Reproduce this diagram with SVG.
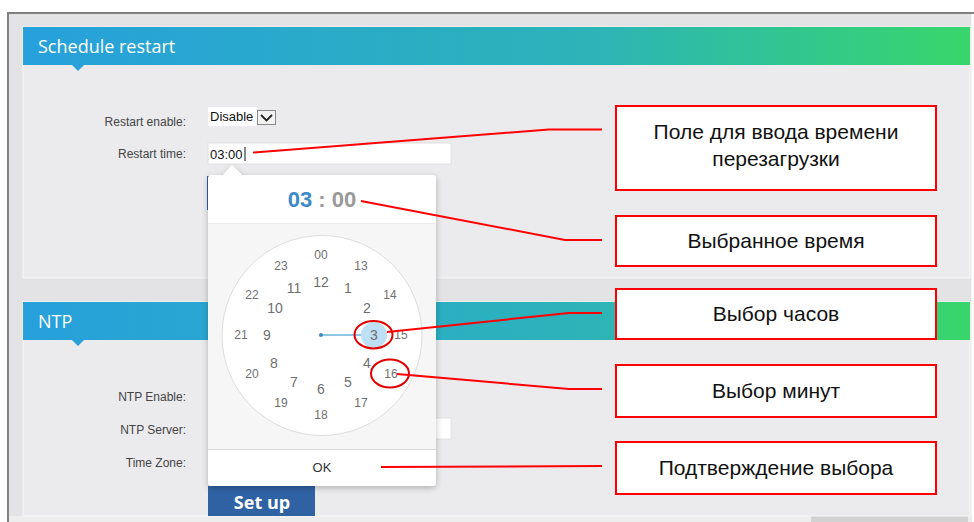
<svg xmlns="http://www.w3.org/2000/svg" width="974" height="522" viewBox="0 0 974 522">
<defs>
<linearGradient id="hdr" x1="0" y1="0" x2="1" y2="0">
<stop offset="0" stop-color="#27a0dc"/>
<stop offset="0.6" stop-color="#2cb4b8"/>
<stop offset="1" stop-color="#38d66b"/>
</linearGradient>
<filter id="shadow" x="-10%" y="-10%" width="120%" height="120%">
<feDropShadow dx="0" dy="2" stdDeviation="3" flood-color="#000" flood-opacity="0.25"/>
</filter>
<style>
.ui{font-family:"Liberation Sans",Arial,sans-serif;}
.lbl{font-family:"Liberation Sans",Arial,sans-serif;font-size:12px;fill:#444;text-anchor:end;}
.hdrt{font-family:"Open Sans","Noto Sans",sans-serif;font-size:18px;fill:#fff;}
.cin{font-family:"Liberation Sans",Arial,sans-serif;font-size:14px;fill:#6f6f6f;text-anchor:middle;}
.cout{font-family:"Liberation Sans",Arial,sans-serif;font-size:12px;fill:#6f6f6f;text-anchor:middle;}
.box{fill:#fff;stroke:#ff0000;stroke-width:2;}
.bt{font-family:"Liberation Sans",Arial,sans-serif;font-size:21px;fill:#111;text-anchor:middle;}
.con{fill:none;stroke:#ff0000;stroke-width:2;}
.ring{fill:none;stroke:#e00000;stroke-width:2;}
</style>
</defs>

<!-- background -->
<rect x="0" y="0" width="974" height="522" fill="#ffffff"/>
<rect x="8" y="13" width="964" height="509" fill="#e3e3e5"/>
<line x1="7" y1="13" x2="974" y2="13" stroke="#808080" stroke-width="2"/>
<line x1="8" y1="13" x2="8" y2="522" stroke="#808080" stroke-width="2"/>
<rect x="9" y="516" width="963" height="6" fill="#ededed"/>
<rect x="811" y="516" width="157" height="6" fill="#d2d2d2"/>
<line x1="971.5" y1="14" x2="971.5" y2="516" stroke="#f4f4f4" stroke-width="1"/>

<!-- panel 1 -->
<g id="panel-schedule">
<rect x="23" y="27" width="947" height="251" fill="#ebebed" stroke="#f7f7f7" stroke-width="1"/>
<rect x="23" y="27" width="947" height="38" fill="url(#hdr)"/>
<polygon points="72,65 84,65 78,71" fill="#27a0dc"/>
<text class="hdrt" x="38" y="53">Schedule restart</text>
<text class="lbl" x="186" y="126">Restart enable:</text>
<text class="lbl" x="186" y="158">Restart time:</text>
<rect x="208" y="107" width="49" height="19" fill="#fff"/>
<text class="ui" x="210" y="121" font-size="13" fill="#111">Disable</text>
<rect x="257.5" y="110.5" width="18" height="14" fill="#f2f2f2" stroke="#888" stroke-width="1"/>
<polyline points="261,115 266.5,120.5 272,115" fill="none" stroke="#222" stroke-width="1.8"/>
<rect x="208" y="143" width="243" height="21" fill="#fff" stroke="#e0e0e0" stroke-width="1"/>
<text class="ui" x="210" y="159" font-size="13" fill="#111">03:00</text>
<line x1="245" y1="147" x2="245" y2="161" stroke="#111" stroke-width="1"/>
<rect x="207" y="176" width="54" height="34" fill="#2f62a3"/>
</g>

<!-- panel 2 -->
<g id="panel-ntp">
<rect x="23" y="302" width="947" height="214" fill="#ebebed" stroke="#f7f7f7" stroke-width="1"/>
<rect x="23" y="302" width="947" height="38" fill="url(#hdr)"/>
<polygon points="72,340 84,340 78,346" fill="#27a0dc"/>
<text class="hdrt" x="38" y="328">NTP</text>
<text class="lbl" x="186" y="401">NTP Enable:</text>
<text class="lbl" x="186" y="434">NTP Server:</text>
<text class="lbl" x="186" y="467">Time Zone:</text>
<rect x="400" y="418" width="51" height="21" fill="#fff" stroke="#e0e0e0" stroke-width="1"/>
<rect x="208" y="486" width="107" height="30" fill="#2f62a3"/>
<text x="262" y="509" font-family="'Open Sans','Noto Sans',sans-serif" font-size="18" font-weight="bold" fill="#fff" text-anchor="middle">Set up</text>
</g>

<!-- time picker popup -->
<g id="picker">
<g filter="url(#shadow)">
<rect x="208" y="175" width="228" height="311" rx="4" fill="#f6f6f6"/>
<polygon points="222,176 232,165 243,176" fill="#fff"/>
</g>
<path d="M208,223 V179 a4,4 0 0 1 4,-4 H432 a4,4 0 0 1 4,4 V223 Z" fill="#fff"/>
<line x1="208" y1="223.5" x2="436" y2="223.5" stroke="#ececec" stroke-width="1"/>
<text x="322" y="207" font-family="'Liberation Sans',Arial,sans-serif" font-size="22" font-weight="bold" text-anchor="middle"><tspan fill="#3b8ac8">03</tspan><tspan fill="#999"> : 00</tspan></text>
<path d="M208,450 H436 V482 a4,4 0 0 1 -4,4 H212 a4,4 0 0 1 -4,-4 Z" fill="#fff"/>
<line x1="208" y1="449.5" x2="436" y2="449.5" stroke="#d8d8d8" stroke-width="1"/>
<text class="ui" x="322" y="472" font-size="13" fill="#333" text-anchor="middle">OK</text>
<circle cx="322" cy="335.5" r="100" fill="#fff" stroke="#dddddd" stroke-width="1"/>
<line x1="321" y1="335" x2="362" y2="335" stroke="#6ab3de" stroke-width="1.5"/>
<circle cx="321" cy="335" r="2" fill="#3a8cc6"/>
<circle cx="374" cy="335" r="13" fill="#bde0f4"/>
<text class="cout" x="321" y="259">00</text>
<text class="cout" x="361" y="270">13</text>
<text class="cout" x="390" y="299">14</text>
<text class="cout" x="401" y="339">15</text>
<text class="cout" x="391" y="378">16</text>
<text class="cout" x="361" y="407">17</text>
<text class="cout" x="321" y="419">18</text>
<text class="cout" x="281" y="407">19</text>
<text class="cout" x="252" y="378">20</text>
<text class="cout" x="241" y="339">21</text>
<text class="cout" x="252" y="299">22</text>
<text class="cout" x="281" y="270">23</text>
<text class="cin" x="321" y="287">12</text>
<text class="cin" x="348" y="293">1</text>
<text class="cin" x="367" y="313">2</text>
<text class="cin" x="374" y="340" fill="#666">3</text>
<text class="cin" x="367" y="368">4</text>
<text class="cin" x="348" y="387">5</text>
<text class="cin" x="321" y="394">6</text>
<text class="cin" x="294" y="387">7</text>
<text class="cin" x="274" y="368">8</text>
<text class="cin" x="267" y="340">9</text>
<text class="cin" x="275" y="313">10</text>
<text class="cin" x="294" y="293">11</text>
<ellipse class="ring" cx="373.5" cy="334.7" rx="19" ry="13.7"/>
<ellipse class="ring" cx="390" cy="373.5" rx="19" ry="14"/>
</g>

<!-- connectors -->
<g id="connectors">
<polyline class="con" points="253,152.5 549,129.5 602,129.5"/>
<polyline class="con" points="361,201 565,240 602,240"/>
<polyline class="con" points="387,332 569,313 602,313"/>
<polyline class="con" points="397,374 569,389 602,389"/>
<polyline class="con" points="381,467 602,466"/>
</g>

<!-- callout boxes -->
<g id="box-input">
<rect class="box" x="616" y="106" width="320" height="84"/>
<text class="bt" x="776" y="139">Поле для ввода времени</text>
<text class="bt" x="776" y="166">перезагрузки</text>
</g>
<g id="box-selected">
<rect class="box" x="616" y="216" width="320" height="50"/>
<text class="bt" x="776" y="248">Выбранное время</text>
</g>
<g id="box-hours">
<rect class="box" x="616" y="289" width="320" height="50"/>
<text class="bt" x="776" y="321">Выбор часов</text>
</g>
<g id="box-minutes">
<rect class="box" x="616" y="365" width="320" height="52"/>
<text class="bt" x="776" y="398">Выбор минут</text>
</g>
<g id="box-confirm">
<rect class="box" x="616" y="442" width="320" height="52"/>
<text class="bt" x="776" y="475">Подтверждение выбора</text>
</g>
</svg>
